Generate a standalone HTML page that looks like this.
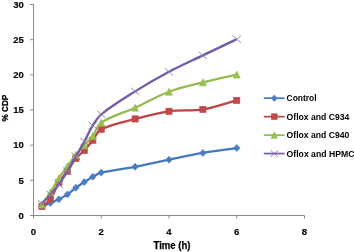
<!DOCTYPE html>
<html><head><meta charset="utf-8"><style>
html,body{margin:0;padding:0;background:#fff;}
body{width:355px;height:252px;overflow:hidden;}
svg{display:block;will-change:transform;}
text{font-family:"Liberation Sans",sans-serif;font-weight:bold;fill:#000;stroke:#000;stroke-width:0.25px;}
.t{font-size:9.5px;stroke-width:0.15px;}
.ti{font-size:10px;}
.ty{font-size:9.2px;}
.lg{font-size:9.5px;stroke-width:0;}
</style></head><body>
<svg width="355" height="252" viewBox="0 0 355 252">
<path d="M33.5,4 V215.5 H304.5" stroke="#8c8c8c" stroke-width="1" fill="none"/>
<path d="M30,215.50 H33.5" stroke="#8c8c8c" stroke-width="1"/>
<path d="M30,180.33 H33.5" stroke="#8c8c8c" stroke-width="1"/>
<path d="M30,145.17 H33.5" stroke="#8c8c8c" stroke-width="1"/>
<path d="M30,110.00 H33.5" stroke="#8c8c8c" stroke-width="1"/>
<path d="M30,74.83 H33.5" stroke="#8c8c8c" stroke-width="1"/>
<path d="M30,39.67 H33.5" stroke="#8c8c8c" stroke-width="1"/>
<path d="M30,4.50 H33.5" stroke="#8c8c8c" stroke-width="1"/>
<path d="M33.50,215.5 V218.5" stroke="#8c8c8c" stroke-width="1"/>
<path d="M101.25,215.5 V218.5" stroke="#8c8c8c" stroke-width="1"/>
<path d="M169.00,215.5 V218.5" stroke="#8c8c8c" stroke-width="1"/>
<path d="M236.75,215.5 V218.5" stroke="#8c8c8c" stroke-width="1"/>
<path d="M304.50,215.5 V218.5" stroke="#8c8c8c" stroke-width="1"/>
<text x="23.8" y="218.70" text-anchor="end" class="t">0</text>
<text x="23.8" y="183.53" text-anchor="end" class="t">5</text>
<text x="23.8" y="148.37" text-anchor="end" class="t">10</text>
<text x="23.8" y="113.20" text-anchor="end" class="t">15</text>
<text x="23.8" y="78.03" text-anchor="end" class="t">20</text>
<text x="23.8" y="42.87" text-anchor="end" class="t">25</text>
<text x="23.8" y="7.70" text-anchor="end" class="t">30</text>
<text x="33.50" y="235.4" text-anchor="middle" class="t">0</text>
<text x="101.25" y="235.4" text-anchor="middle" class="t">2</text>
<text x="169.00" y="235.4" text-anchor="middle" class="t">4</text>
<text x="236.75" y="235.4" text-anchor="middle" class="t">6</text>
<text x="304.50" y="235.4" text-anchor="middle" class="t">8</text>
<text x="172.0" y="248.5" text-anchor="middle" class="ti" textLength="37" lengthAdjust="spacingAndGlyphs">Time (h)</text>
<text transform="translate(7.7,108.1) rotate(-90)" text-anchor="middle" class="ty" textLength="26.8" lengthAdjust="spacingAndGlyphs">% CDP</text>
<path d="M41.97,206.36 C44.79,205.23 47.63,204.15 50.44,202.98 C53.28,201.80 56.17,200.71 58.91,199.32 C61.81,197.85 64.69,196.24 67.38,194.40 C70.33,192.37 72.94,189.83 75.84,187.72 C78.58,185.73 81.46,183.93 84.31,182.09 C87.11,180.29 89.88,178.44 92.78,176.82 C95.53,175.28 98.20,173.32 101.25,172.60 C112.32,169.97 123.87,168.91 135.12,166.76 C146.46,164.59 157.70,161.97 169.00,159.66 C180.28,157.35 191.53,154.85 202.88,152.90 C214.11,150.98 225.46,149.67 236.75,148.05" stroke="#4578bd" stroke-width="2.30" fill="none" stroke-linejoin="round"/>
<path d="M41.97,202.86 L45.17,206.36 L41.97,209.86 L38.77,206.36 Z" fill="#4a7ec2" stroke="#4578bd" stroke-width="0.6"/>
<path d="M50.44,199.48 L53.64,202.98 L50.44,206.48 L47.24,202.98 Z" fill="#4a7ec2" stroke="#4578bd" stroke-width="0.6"/>
<path d="M58.91,195.82 L62.11,199.32 L58.91,202.82 L55.71,199.32 Z" fill="#4a7ec2" stroke="#4578bd" stroke-width="0.6"/>
<path d="M67.38,190.90 L70.58,194.40 L67.38,197.90 L64.17,194.40 Z" fill="#4a7ec2" stroke="#4578bd" stroke-width="0.6"/>
<path d="M75.84,184.22 L79.04,187.72 L75.84,191.22 L72.64,187.72 Z" fill="#4a7ec2" stroke="#4578bd" stroke-width="0.6"/>
<path d="M84.31,178.59 L87.51,182.09 L84.31,185.59 L81.11,182.09 Z" fill="#4a7ec2" stroke="#4578bd" stroke-width="0.6"/>
<path d="M92.78,173.32 L95.98,176.82 L92.78,180.32 L89.58,176.82 Z" fill="#4a7ec2" stroke="#4578bd" stroke-width="0.6"/>
<path d="M101.25,169.10 L104.45,172.60 L101.25,176.10 L98.05,172.60 Z" fill="#4a7ec2" stroke="#4578bd" stroke-width="0.6"/>
<path d="M135.12,163.26 L138.32,166.76 L135.12,170.26 L131.93,166.76 Z" fill="#4a7ec2" stroke="#4578bd" stroke-width="0.6"/>
<path d="M169.00,156.16 L172.20,159.66 L169.00,163.16 L165.80,159.66 Z" fill="#4a7ec2" stroke="#4578bd" stroke-width="0.6"/>
<path d="M202.88,149.40 L206.07,152.90 L202.88,156.40 L199.68,152.90 Z" fill="#4a7ec2" stroke="#4578bd" stroke-width="0.6"/>
<path d="M236.75,144.55 L239.95,148.05 L236.75,151.55 L233.55,148.05 Z" fill="#4a7ec2" stroke="#4578bd" stroke-width="0.6"/>
<path d="M41.97,206.50 C44.79,204.11 48.35,202.29 50.44,199.32 C53.99,194.27 55.67,187.82 58.91,182.44 C61.32,178.44 64.66,175.02 67.38,171.19 C70.31,167.05 72.65,162.44 75.84,158.53 C78.30,155.52 81.66,153.30 84.31,150.44 C87.31,147.21 90.03,143.70 92.78,140.24 C95.67,136.62 97.27,131.21 101.25,129.20 C111.38,124.10 123.73,121.95 135.12,118.93 C146.31,115.97 157.58,112.87 169.00,111.27 C180.16,109.70 191.77,111.21 202.88,109.44 C214.35,107.60 225.46,103.44 236.75,100.43" stroke="#bc4446" stroke-width="2.30" fill="none" stroke-linejoin="round"/>
<rect x="38.87" y="203.40" width="6.20" height="6.20" fill="#c4474b" stroke="#bc4446" stroke-width="0.6"/>
<rect x="47.34" y="196.22" width="6.20" height="6.20" fill="#c4474b" stroke="#bc4446" stroke-width="0.6"/>
<rect x="55.81" y="179.34" width="6.20" height="6.20" fill="#c4474b" stroke="#bc4446" stroke-width="0.6"/>
<rect x="64.28" y="168.09" width="6.20" height="6.20" fill="#c4474b" stroke="#bc4446" stroke-width="0.6"/>
<rect x="72.74" y="155.43" width="6.20" height="6.20" fill="#c4474b" stroke="#bc4446" stroke-width="0.6"/>
<rect x="81.21" y="147.34" width="6.20" height="6.20" fill="#c4474b" stroke="#bc4446" stroke-width="0.6"/>
<rect x="89.68" y="137.14" width="6.20" height="6.20" fill="#c4474b" stroke="#bc4446" stroke-width="0.6"/>
<rect x="98.15" y="126.10" width="6.20" height="6.20" fill="#c4474b" stroke="#bc4446" stroke-width="0.6"/>
<rect x="132.03" y="115.83" width="6.20" height="6.20" fill="#c4474b" stroke="#bc4446" stroke-width="0.6"/>
<rect x="165.90" y="108.17" width="6.20" height="6.20" fill="#c4474b" stroke="#bc4446" stroke-width="0.6"/>
<rect x="199.78" y="106.34" width="6.20" height="6.20" fill="#c4474b" stroke="#bc4446" stroke-width="0.6"/>
<rect x="233.65" y="97.33" width="6.20" height="6.20" fill="#c4474b" stroke="#bc4446" stroke-width="0.6"/>
<path d="M41.97,204.60 C44.79,200.50 47.75,196.48 50.44,192.29 C53.39,187.69 55.92,182.81 58.91,178.22 C61.57,174.13 64.50,170.21 67.38,166.27 C70.14,162.47 72.91,158.67 75.84,155.01 C78.55,151.64 81.43,148.40 84.31,145.17 C87.08,142.07 90.29,139.33 92.78,136.02 C95.94,131.83 97.03,125.49 101.25,122.66 C111.14,116.04 123.90,112.81 135.12,107.68 C146.48,102.49 157.35,96.07 169.00,91.71 C179.93,87.63 191.52,85.22 202.88,82.36 C214.10,79.53 225.46,77.20 236.75,74.62" stroke="#94bb4e" stroke-width="2.30" fill="none" stroke-linejoin="round"/>
<path d="M41.97,201.10 L45.47,208.10 L38.47,208.10 Z" fill="#98bf52" stroke="#94bb4e" stroke-width="0.6"/>
<path d="M50.44,188.79 L53.94,195.79 L46.94,195.79 Z" fill="#98bf52" stroke="#94bb4e" stroke-width="0.6"/>
<path d="M58.91,174.72 L62.41,181.72 L55.41,181.72 Z" fill="#98bf52" stroke="#94bb4e" stroke-width="0.6"/>
<path d="M67.38,162.77 L70.88,169.77 L63.88,169.77 Z" fill="#98bf52" stroke="#94bb4e" stroke-width="0.6"/>
<path d="M75.84,151.51 L79.34,158.51 L72.34,158.51 Z" fill="#98bf52" stroke="#94bb4e" stroke-width="0.6"/>
<path d="M84.31,141.67 L87.81,148.67 L80.81,148.67 Z" fill="#98bf52" stroke="#94bb4e" stroke-width="0.6"/>
<path d="M92.78,132.52 L96.28,139.52 L89.28,139.52 Z" fill="#98bf52" stroke="#94bb4e" stroke-width="0.6"/>
<path d="M101.25,119.16 L104.75,126.16 L97.75,126.16 Z" fill="#98bf52" stroke="#94bb4e" stroke-width="0.6"/>
<path d="M135.12,104.18 L138.62,111.18 L131.62,111.18 Z" fill="#98bf52" stroke="#94bb4e" stroke-width="0.6"/>
<path d="M169.00,88.21 L172.50,95.21 L165.50,95.21 Z" fill="#98bf52" stroke="#94bb4e" stroke-width="0.6"/>
<path d="M202.88,78.86 L206.38,85.86 L199.38,85.86 Z" fill="#98bf52" stroke="#94bb4e" stroke-width="0.6"/>
<path d="M236.75,71.12 L240.25,78.12 L233.25,78.12 Z" fill="#98bf52" stroke="#94bb4e" stroke-width="0.6"/>
<path d="M41.97,203.54 C44.79,200.50 47.67,197.50 50.44,194.40 C53.32,191.17 56.36,188.04 58.91,184.55 C62.01,180.30 64.66,175.71 67.38,171.19 C70.30,166.33 73.02,161.34 75.84,156.42 C78.67,151.50 81.59,146.63 84.31,141.65 C87.23,136.31 89.59,130.63 92.78,125.47 C95.23,121.51 97.65,117.19 101.25,114.29 C111.76,105.82 123.59,98.61 135.12,91.36 C146.17,84.43 157.49,77.86 169.00,71.74 C180.07,65.86 191.57,60.78 202.88,55.35 C214.15,49.93 225.46,44.57 236.75,39.17" stroke="#7459a3" stroke-width="2.30" fill="none" stroke-linejoin="round"/>
<path d="M37.77,199.94 L46.17,207.14 M37.77,207.14 L46.17,199.94" stroke="#8a80a6" stroke-width="0.9" fill="none"/>
<path d="M46.24,190.80 L54.64,198.00 M46.24,198.00 L54.64,190.80" stroke="#8a80a6" stroke-width="0.9" fill="none"/>
<path d="M54.71,180.95 L63.11,188.15 M54.71,188.15 L63.11,180.95" stroke="#8a80a6" stroke-width="0.9" fill="none"/>
<path d="M63.17,167.59 L71.58,174.79 M63.17,174.79 L71.58,167.59" stroke="#8a80a6" stroke-width="0.9" fill="none"/>
<path d="M71.64,152.82 L80.04,160.02 M71.64,160.02 L80.04,152.82" stroke="#8a80a6" stroke-width="0.9" fill="none"/>
<path d="M80.11,138.05 L88.51,145.25 M80.11,145.25 L88.51,138.05" stroke="#8a80a6" stroke-width="0.9" fill="none"/>
<path d="M88.58,121.87 L96.98,129.07 M88.58,129.07 L96.98,121.87" stroke="#8a80a6" stroke-width="0.9" fill="none"/>
<path d="M97.05,110.69 L105.45,117.89 M97.05,117.89 L105.45,110.69" stroke="#8a80a6" stroke-width="0.9" fill="none"/>
<path d="M130.93,87.76 L139.32,94.96 M130.93,94.96 L139.32,87.76" stroke="#8a80a6" stroke-width="0.9" fill="none"/>
<path d="M164.80,68.14 L173.20,75.34 M164.80,75.34 L173.20,68.14" stroke="#8a80a6" stroke-width="0.9" fill="none"/>
<path d="M198.68,51.75 L207.07,58.95 M198.68,58.95 L207.07,51.75" stroke="#8a80a6" stroke-width="0.9" fill="none"/>
<path d="M232.55,35.57 L240.95,42.77 M232.55,42.77 L240.95,35.57" stroke="#8a80a6" stroke-width="0.9" fill="none"/>
<path d="M263.8,98.20 H284.6" stroke="#4578bd" stroke-width="1.70"/>
<path d="M274.30,94.95 L277.25,98.20 L274.30,101.45 L271.35,98.20 Z" fill="#4a7ec2" stroke="#4578bd" stroke-width="0.6"/>
<text x="286.6" y="101.40" class="lg" textLength="30.0" lengthAdjust="spacingAndGlyphs">Control</text>
<path d="M263.8,116.65 H284.6" stroke="#bc4446" stroke-width="1.70"/>
<rect x="271.45" y="113.80" width="5.70" height="5.70" fill="#c4474b" stroke="#bc4446" stroke-width="0.6"/>
<text x="286.6" y="119.85" class="lg" textLength="62.8" lengthAdjust="spacingAndGlyphs">Oflox and C934</text>
<path d="M263.8,135.10 H284.6" stroke="#94bb4e" stroke-width="1.70"/>
<path d="M274.30,131.85 L277.55,138.35 L271.05,138.35 Z" fill="#98bf52" stroke="#94bb4e" stroke-width="0.6"/>
<text x="286.6" y="138.30" class="lg" textLength="62.8" lengthAdjust="spacingAndGlyphs">Oflox and C940</text>
<path d="M263.8,153.55 H284.6" stroke="#7459a3" stroke-width="1.70"/>
<path d="M270.44,150.24 L278.16,156.86 M270.44,156.86 L278.16,150.24" stroke="#8a80a6" stroke-width="0.9" fill="none"/>
<text x="286.6" y="156.75" class="lg" textLength="67.8" lengthAdjust="spacingAndGlyphs">Oflox and HPMC</text>
</svg>
</body></html>
